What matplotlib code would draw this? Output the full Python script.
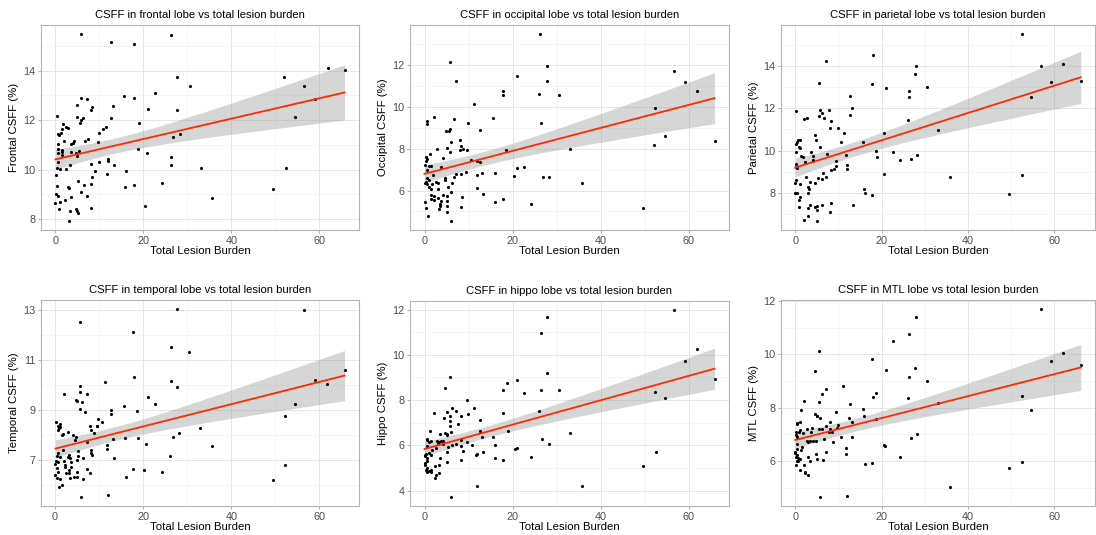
import numpy as np
import matplotlib
matplotlib.use("Agg")
from matplotlib import pyplot as plt

# values (total lesion burden, CSFF %)
frontal_x = [5.7, 12.6, 17.9, 26.3, 27.7, 30.5, 22.6, 15.6, 17.8, 5.7, 7.2, 13.1, 5.0, 8.3, 8.1, 21.1, 27.7,
             0.3, 4.8, 6.2, 5.7, 5.6, 12.7, 18.9, 1.8, 11.4, 2.3, 10.8, 2.9, 1.4, 0.5, 0.8, 1.2, 2.0, 4.2, 4.0,
             3.6, 7.5, 6.8, 9.9, 9.6, 1.4, 0.5, 0.5, 0.5, 1.5, 3.5, 4.7, 5.3, 5.0, 1.6, 0.6, 11.9, 12.0, 20.8,
             26.3, 26.8, 28.2, 18.7, 26.2, 8.1, 9.8, 13.2, 2.3, 3.2, 1.0, 0.4, 33.0, 52.3, 0.1, 11.7, 16.1, 8.9,
             8.3, 5.1, 6.4, 2.9, 3.1, 15.9, 17.8, 24.2, 8.0, 5.9, 7.2, 0.3, 0.1, 0.5, 3.6, 2.1, 49.5, 35.6, 1.1,
             0.0, 0.9, 4.6, 5.0, 5.1, 3.2, 8.1, 20.3, 3.1, 52.0, 56.5, 58.9, 54.4, 61.9, 65.7]
frontal_y = [15.47, 15.17, 15.07, 15.43, 13.76, 13.39, 13.09, 12.96, 12.88, 12.89, 12.85, 12.59, 12.63, 12.53,
             12.40, 12.44, 12.40, 12.16, 12.11, 12.07, 12.0, 11.89, 12.09, 11.87, 11.83, 11.73, 11.71, 11.63,
             11.67, 11.64, 11.43, 11.40, 11.47, 11.17, 11.16, 11.07, 11.03, 11.23, 11.17, 11.47, 11.13, 10.8,
             11.04, 10.83, 10.67, 10.72, 10.71, 10.67, 10.75, 10.55, 10.59, 10.32, 10.43, 10.36, 10.67, 10.51,
             11.33, 11.44, 10.83, 10.19, 10.24, 10.32, 10.19, 10.04, 10.2, 10.04, 10.07, 10.07, 10.05, 9.77, 9.81,
             9.93, 9.92, 9.69, 9.53, 9.37, 9.31, 9.27, 9.31, 9.39, 9.47, 9.41, 9.11, 8.93, 9.32, 8.99, 8.91, 8.87,
             8.76, 9.23, 8.83, 8.69, 8.63, 8.4, 8.4, 8.33, 8.23, 8.33, 8.44, 8.52, 7.93, 13.76, 13.36, 12.87,
             12.11, 14.11, 14.03]

occipital_x = [26.3, 5.8, 27.7, 7.2, 21.1, 27.7, 56.6, 59.0, 61.9, 17.9, 17.8, 26.0, 30.5, 11.2, 26.4, 9.9, 0.5,
               0.6, 2.1, 15.6, 6.6, 5.8, 4.8, 5.6, 12.7, 52.3, 54.6, 65.8, 52.1, 6.0, 8.0, 8.2, 5.0, 2.9, 8.8,
               8.0, 9.7, 18.6, 32.9, 5.7, 1.2, 0.3, 0.5, 4.1, 0.4, 10.6, 12.7, 11.8, 0.0, 1.1, 1.5, 3.8, 21.1,
               22.6, 0.5, 9.5, 7.2, 8.3, 13.1, 11.9, 15.9, 20.4, 26.8, 28.2, 1.9, 6.8, 4.7, 4.7, 0.5, 1.1, 0.3,
               0.6, 2.7, 3.1, 0.0, 1.7, 6.3, 35.7, 5.3, 1.0, 1.4, 3.1, 12.0, 6.1, 1.5, 2.2, 4.2, 13.2, 5.1, 8.4,
               1.5, 3.0, 2.2, 17.8, 3.7, 5.0, 0.0, 16.0, 3.5, 5.0, 3.5, 24.2, 8.2, 3.2, 0.4, 49.5, 5.0, 0.9, 6.0]
occipital_y = [13.47, 12.13, 11.94, 11.22, 11.46, 11.22, 11.70, 11.19, 10.78, 10.78, 10.59, 10.62, 10.58, 10.12,
               9.25, 9.23, 9.31, 9.2, 9.53, 9.45, 9.44, 8.93, 8.85, 8.84, 8.91, 9.94, 8.63, 8.38, 8.2, 8.31, 8.41,
               8.15, 8.04, 8.01, 7.98, 7.93, 7.93, 7.93, 8.01, 7.82, 7.74, 7.59, 7.49, 7.57, 7.40, 7.46, 7.35,
               7.40, 7.24, 7.19, 7.17, 7.14, 7.06, 7.11, 7.00, 6.91, 6.78, 6.81, 6.86, 6.75, 6.84, 6.70, 6.64,
               6.67, 6.76, 6.64, 6.62, 6.49, 6.6, 6.49, 6.41, 6.32, 6.43, 6.38, 6.35, 6.30, 6.34, 6.38, 6.16,
               6.15, 6.07, 6.07, 6.11, 5.91, 5.77, 5.75, 5.80, 5.83, 5.72, 5.67, 5.61, 5.64, 5.53, 5.59, 5.51,
               5.48, 5.45, 5.47, 5.37, 5.27, 5.24, 5.35, 5.2, 5.12, 5.15, 5.16, 4.99, 4.80, 4.56]

parietal_x = [52.6, 17.9, 7.1, 56.8, 27.9, 62.1, 27.7, 17.7, 5.6, 59.2, 66.1, 30.5, 21.1, 26.4, 26.4, 54.7,
              12.6, 13.1, 5.7, 7.9, 6.1, 0.2, 12.7, 5.5, 6.7, 2.6, 2.0, 8.2, 26.1, 8.0, 9.8, 33.1, 11.2, 20.6,
              4.6, 1.1, 10.6, 15.6, 4.8, 0.7, 0.4, 0.2, 0.8, 1.1, 5.7, 0.2, 3.6, 18.6, 22.7, 7.3, 4.0, 11.7,
              28.2, 1.4, 1.8, 18.9, 26.7, 24.2, 4.1, 4.2, 2.3, 9.5, 12.0, 11.9, 0.1, 0.2, 0.5, 0.4, 9.4, 8.2,
              8.9, 6.4, 7.0, 5.3, 6.1, 2.4, 0.2, 3.4, 4.5, 20.6, 52.4, 35.8, 0.0, 1.1, 2.9, 3.2, 15.9, 16.1,
              2.9, 0.0, 0.5, 17.8, 49.6, 1.2, 0.9, 3.5, 8.3, 13.3, 6.1, 5.1, 4.5, 0.8, 3.0, 5.0, 8.0, 2.9, 2.1,
              5.0]
parietal_y = [15.53, 14.55, 14.25, 14.0, 14.0, 14.11, 13.65, 13.18, 13.2, 13.24, 13.32, 13.01, 12.98, 12.82,
              12.54, 12.54, 12.6, 12.0, 11.95, 11.94, 11.8, 11.89, 11.7, 11.62, 11.53, 11.56, 11.5, 11.42,
              11.43, 11.09, 11.07, 10.98, 10.82, 10.85, 10.74, 10.52, 10.41, 10.39, 10.5, 10.49, 10.39, 10.3,
              10.17, 10.12, 10.16, 9.94, 9.91, 9.97, 9.94, 9.83, 9.75, 9.78, 9.78, 9.73, 9.70, 9.70, 9.61, 9.54,
              9.54, 9.5, 9.46, 9.5, 9.31, 9.13, 9.34, 9.23, 9.23, 9.15, 9.28, 9.07, 9.12, 8.91, 8.76, 8.71, 8.63,
              8.76, 8.6, 8.52, 8.47, 8.88, 8.83, 8.72, 8.44, 8.39, 8.28, 8.17, 8.16, 7.97, 7.97, 7.97, 7.97,
              7.87, 7.95, 7.78, 7.64, 7.40, 7.48, 7.40, 7.39, 7.37, 7.31, 7.29, 7.26, 7.18, 7.06, 6.87, 6.68,
              6.66]

temporal_x = [27.7, 56.5, 5.7, 17.8, 26.3, 30.5, 17.9, 26.3, 65.7, 58.9, 61.7, 11.4, 5.6, 5.7, 27.7, 2.1, 7.2,
              21.1, 4.8, 5.0, 6.1, 22.6, 54.4, 15.6, 5.7, 6.8, 12.7, 18.7, 12.6, 52.1, 9.8, 0.3, 10.7, 1.2, 0.6,
              1.1, 1.0, 0.6, 9.5, 9.6, 8.0, 8.1, 2.9, 8.9, 28.2, 1.6, 32.9, 4.1, 4.7, 1.7, 18.8, 26.8, 15.9,
              13.2, 4.5, 7.2, 11.7, 20.6, 35.6, 11.8, 1.7, 8.1, 5.2, 8.2, 0.7, 3.2, 8.3, 6.3, 5.2, 3.5, 13.3,
              2.9, 0.5, 1.2, 26.2, 0.2, 0.6, 2.1, 5.1, 0.1, 3.7, 3.7, 2.3, 2.2, 0.4, 7.2, 17.8, 3.2, 20.3, 0.7,
              3.1, 5.0, 8.0, 24.2, 2.5, 0.1, 0.5, 5.1, 3.3, 4.2, 16.0, 1.1, 6.3, 52.3, 49.5, 1.5, 1.0, 5.9, 12.0]
temporal_y = [13.03, 13.0, 12.52, 12.11, 11.51, 11.32, 10.34, 10.18, 10.61, 10.22, 10.05, 10.11, 9.95, 9.72,
              9.91, 9.65, 9.65, 9.54, 9.41, 9.36, 9.33, 9.25, 9.25, 9.16, 9.06, 8.93, 9.01, 8.96, 8.85, 8.78,
              8.66, 8.53, 8.53, 8.43, 8.36, 8.33, 8.27, 8.20, 8.35, 8.37, 8.37, 8.19, 8.12, 8.08, 8.09, 7.99,
              8.28, 7.99, 7.93, 8.05, 7.89, 7.93, 7.87, 7.83, 7.79, 7.73, 7.60, 7.63, 7.55, 7.45, 7.40, 7.40,
              7.36, 7.30, 7.27, 7.19, 7.19, 7.10, 7.16, 7.07, 7.10, 7.12, 7.16, 7.12, 7.15, 6.96, 6.94, 6.96,
              6.99, 6.83, 6.92, 6.74, 6.80, 6.72, 6.70, 6.64, 6.64, 6.59, 6.59, 6.54, 6.50, 6.52, 6.48, 6.51,
              6.47, 6.40, 6.30, 6.34, 6.28, 6.32, 6.32, 6.24, 6.23, 6.79, 6.22, 6.0, 5.93, 5.54, 5.59]

hippo_x = [56.6, 27.7, 26.4, 61.8, 59.0, 65.8, 27.7, 21.1, 18.7, 5.8, 4.7, 17.8, 26.4, 30.5, 22.6, 52.3, 54.6,
           9.6, 11.2, 6.2, 2.1, 17.9, 26.0, 5.1, 7.2, 9.9, 8.3, 5.8, 4.5, 12.7, 5.7, 7.5, 5.7, 1.2, 19.0, 12.7,
           6.1, 3.5, 32.9, 4.7, 5.2, 5.0, 13.1, 15.6, 0.5, 0.5, 1.4, 1.0, 2.8, 3.2, 3.8, 4.1, 3.0, 4.1, 8.2,
           26.7, 9.7, 8.3, 10.7, 15.9, 7.1, 6.3, 28.2, 5.3, 0.5, 1.8, 2.7, 20.9, 20.5, 1.1, 5.0, 8.8, 13.3, 1.5,
           0.4, 12.0, 11.6, 52.6, 0.0, 0.2, 3.6, 16.0, 24.2, 8.2, 17.8, 5.1, 0.6, 0.5, 0.0, 0.1, 3.2, 2.3, 49.5,
           0.5, 0.3, 1.5, 1.1, 0.5, 1.4, 2.6, 3.2, 2.3, 12.0, 35.8, 5.9]
hippo_y = [11.97, 11.69, 10.95, 10.27, 9.74, 8.92, 9.20, 8.90, 8.76, 9.01, 8.52, 8.46, 8.44, 8.43, 8.33, 8.34,
           8.08, 8.02, 7.67, 7.64, 7.42, 7.45, 7.50, 7.47, 7.50, 7.38, 7.31, 7.31, 7.20, 7.13, 7.06, 6.94, 6.84,
           6.65, 6.65, 6.62, 6.61, 6.48, 6.55, 6.55, 6.52, 6.45, 6.39, 6.39, 6.26, 6.23, 6.18, 6.14, 6.18, 6.15,
           6.18, 6.20, 6.04, 6.04, 6.23, 6.29, 6.13, 5.99, 6.02, 6.02, 6.04, 6.01, 6.07, 5.94, 5.97, 5.80, 5.89,
           5.89, 5.83, 5.67, 5.70, 5.75, 5.70, 5.57, 5.60, 5.60, 5.56, 5.70, 5.57, 5.53, 5.45, 5.43, 5.47, 5.35,
           5.35, 5.28, 5.31, 5.43, 5.24, 5.13, 5.13, 5.08, 5.09, 4.99, 4.92, 4.92, 4.87, 4.83, 4.83, 4.70, 4.76,
           4.54, 4.19, 4.20, 3.73]

mtl_x = [56.8, 27.9, 26.4, 22.6, 5.6, 62.1, 17.8, 59.2, 66.1, 27.7, 21.1, 4.6, 26.4, 30.5, 11.1, 7.1, 18.6, 6.1,
         18.0, 26.1, 52.4, 2.0, 5.6, 12.7, 33.0, 54.7, 15.6, 1.4, 9.5, 4.5, 5.1, 5.0, 15.8, 5.7, 12.4, 18.8, 0.5,
         1.1, 0.5, 8.1, 13.1, 9.8, 7.2, 3.9, 2.8, 6.2, 5.6, 8.0, 9.7, 7.7, 0.2, 0.9, 1.2, 1.7, 0.2, 3.6, 8.6,
         28.2, 0.4, 10.6, 13.2, 26.7, 2.6, 3.4, 2.9, 4.2, 4.9, 6.7, 0.4, 8.8, 1.6, 20.5, 20.8, 0.4, 1.3, 11.7,
         0.0, 0.0, 7.0, 0.5, 4.8, 11.7, 0.2, 3.0, 0.7, 24.2, 1.1, 5.1, 0.7, 0.4, 3.4, 6.4, 2.1, 0.2, 16.1, 17.8,
         52.6, 49.6, 1.1, 2.2, 2.2, 2.9, 35.8, 5.8, 12.0]
mtl_y = [11.68, 11.40, 10.74, 10.49, 10.13, 10.03, 9.82, 9.73, 9.59, 9.49, 9.42, 9.37, 9.14, 8.99, 8.80, 8.68,
         8.56, 8.51, 8.38, 8.37, 8.43, 8.25, 8.20, 8.13, 8.16, 7.90, 7.93, 7.91, 7.85, 7.75, 7.70, 7.67, 7.69,
         7.62, 7.60, 7.57, 7.42, 7.44, 7.40, 7.44, 7.45, 7.35, 7.31, 7.22, 7.20, 7.20, 7.20, 7.20, 7.22, 7.10,
         7.07, 7.10, 7.14, 7.03, 6.98, 7.07, 7.10, 7.01, 6.91, 6.91, 6.91, 6.84, 6.75, 6.73, 6.70, 6.73, 6.75,
         6.81, 6.63, 6.70, 6.53, 6.60, 6.56, 6.44, 6.41, 6.48, 6.35, 6.31, 6.33, 6.23, 6.26, 6.25, 6.16, 6.16,
         6.10, 6.13, 6.06, 6.06, 6.0, 6.0, 6.01, 6.04, 5.85, 5.83, 5.89, 5.92, 5.95, 5.73, 5.67, 5.60, 5.55,
         5.48, 5.02, 4.66, 4.69]

titles = ["CSFF in frontal lobe vs total lesion burden", "CSFF in occipital lobe vs total lesion burden",
          "CSFF in parietal lobe vs total lesion burden", "CSFF in temporal lobe vs total lesion burden",
          "CSFF in hippo lobe vs total lesion burden", "CSFF in MTL lobe vs total lesion burden"]
ylabels = ["Frontal CSFF (%)", "Occipital CSFF (%)", "Parietal CSFF (%)",
           "Temporal CSFF (%)", "Hippo CSFF (%)", "MTL CSFF (%)"]
yticks = [[8, 10, 12, 14], [6, 8, 10, 12], [8, 10, 12, 14], [7, 9, 11, 13], [4, 6, 8, 10, 12], [6, 8, 10, 12]]
xticks = [0, 20, 40, 60]

W, H = 1096, 535
# panel rectangles in pixels: left, top, right, bottom
boxes = [(41, 25, 359, 230), (410, 25, 729, 230), (781, 25, 1095, 230),
         (41, 300, 359, 506), (410, 301, 729, 506), (781, 300, 1095, 506)]


def fit_band(x, y, grid):
    n = len(x)
    b, a = np.polyfit(x, y, 1)
    pred = a + b * grid
    resid = y - (a + b * x)
    s = np.sqrt(np.sum(resid ** 2) / (n - 2))
    se = s * np.sqrt(1.0 / n + (grid - x.mean()) ** 2 / np.sum((x - x.mean()) ** 2))
    t = 1.983
    return pred, pred - t * se, pred + t * se


def panel(ax, x, y, title, ylabel, ticks):
    x = np.array(x)
    y = np.array(y)
    grid = np.linspace(x.min(), x.max(), 80)
    pred, lo, hi = fit_band(x, y, grid)

    ax.fill_between(grid, lo, hi, color="#999999", alpha=0.4, lw=0, zorder=2)
    ax.scatter(x, y, s=5, color="black", lw=0, zorder=3)
    ax.plot(grid, pred, color="#FF2A00", lw=1.3, zorder=4)

    ax.set_xticks(xticks)
    ax.set_xticks([10, 30, 50], minor=True)
    ax.set_yticks(ticks)
    step = ticks[1] - ticks[0]
    ax.set_yticks([t - step / 2 for t in ticks] + [ticks[-1] + step / 2], minor=True)

    # limits after ticks so the extra minor ticks don't stretch the view
    xr = x.max() - x.min()
    ymin = min(y.min(), lo.min())
    ymax = max(y.max(), hi.max())
    yr = ymax - ymin
    ax.set_xlim(x.min() - 0.05 * xr, x.max() + 0.05 * xr)
    ax.set_ylim(ymin - 0.05 * yr, ymax + 0.05 * yr)

    ax.grid(which="major", color="#E6E6E6", lw=0.7, zorder=0)
    ax.grid(which="minor", color="#F2F2F2", lw=0.5, zorder=0)
    ax.set_axisbelow(True)
    ax.tick_params(which="major", length=2.5, width=0.6, color="#A0A0A0",
                   labelsize=7.8, labelcolor="#4D4D4D", pad=1.5)
    ax.tick_params(which="minor", length=0)
    for sp in ax.spines.values():
        sp.set_color("#B3B3B3")
        sp.set_linewidth(0.8)

    ax.set_title(title, fontsize=8.1, pad=5)
    ax.set_xlabel("Total Lesion Burden", fontsize=8.2, labelpad=0.5)
    ax.set_ylabel(ylabel, fontsize=8.2, labelpad=3)


plt.rcParams["font.family"] = ["Liberation Sans", "DejaVu Sans"]
fig = plt.figure(figsize=(W / 100, H / 100), dpi=100)

xs = [frontal_x, occipital_x, parietal_x, temporal_x, hippo_x, mtl_x]
ys = [frontal_y, occipital_y, parietal_y, temporal_y, hippo_y, mtl_y]

for i in range(6):
    l, t, r, b = boxes[i]
    ax = fig.add_axes([l / W, 1 - b / H, (r - l) / W, (b - t) / H])
    panel(ax, xs[i], ys[i], titles[i], ylabels[i], yticks[i])

fig.savefig("out.png", dpi=100)
